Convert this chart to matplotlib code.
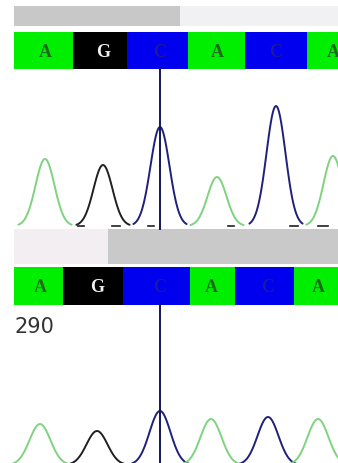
import numpy as np
import matplotlib.pyplot as plt

# bases called in each read (same order in both)
bases = ["A", "G", "C", "A", "C", "A"]

# top read: cell edges of the base bar, peak positions and heights (pixels)
top_edges = [14, 73, 127, 188, 245, 307, 338]
top_peak_x = [45, 103, 160, 217, 276, 333]
top_peak_h = [67, 61, 99, 49, 120, 70]

# bottom read
bot_edges = [14, 63, 123, 190, 235, 294, 338]
bot_peak_x = [40, 97, 160, 211, 268, 318]
bot_peak_h = [41, 34, 54, 46, 48, 46]
bot_label = "290"

cell_col = {"A": "#00ee00", "G": "#000000", "C": "#0000ee"}
text_col = {"A": "#1d6a1d", "G": "#f0f0f0", "C": "#1a1aa0"}
trace_col = {"A": "#7fd27f", "G": "#202020", "C": "#20207a"}

W, H = 338, 464
fig = plt.figure(figsize=(W / 100, H / 100), dpi=100)
ax = fig.add_axes([0, 0, 1, 1])
ax.set_xlim(0, W)
ax.set_ylim(H, 0)
ax.axis("off")


def draw_read(edges, peak_x, peak_h, bar_top, bar_bot, strip, baseline, sig):
    # grey strip above the bar
    for x0, x1, c in strip:
        ax.fill_between([x0, x1], strip_y[0], strip_y[1], color=c, lw=0)
    for i, b in enumerate(bases):
        ax.fill_between([edges[i], edges[i + 1]], bar_top, bar_bot,
                        color=cell_col[b], lw=0)
        ax.text(peak_x[i], (bar_top + bar_bot) / 2 + 1, b, ha="center", va="center",
                fontsize=13, fontweight="bold", family="Liberation Serif",
                color=text_col[b])
    for i, b in enumerate(bases):
        xs = np.linspace(peak_x[i] - 2.8 * sig, peak_x[i] + 2.8 * sig, 80)
        ys = baseline - peak_h[i] * np.exp(-(xs - peak_x[i]) ** 2 / (2 * sig ** 2))
        ax.plot(xs, ys, color=trace_col[b], lw=1.4, solid_capstyle="round")


strip_y = (7, 27)
draw_read(top_edges, top_peak_x, top_peak_h, 33, 70,
          [(14, 180, "#c8c8c8"), (180, 338, "#f1f1f4")], 227, 9.5)
strip_y = (230, 265)
draw_read(bot_edges, bot_peak_x, bot_peak_h, 268, 306,
          [(14, 108, "#f2eef2"), (108, 338, "#c9c9c9")], 466, 10.5)

# small baseline marks under the top trace
for x0, x1 in [(78, 84), (112, 120), (148, 154), (228, 234), (290, 298), (318, 328)]:
    ax.plot([x0, x1], [227, 227], color="#202020", lw=1.2)

# cursor lines through the centre peak
ax.plot([160, 160], [70, 230], color="#14145a", lw=1.4)
ax.plot([160, 160], [306, 464], color="#14145a", lw=1.4)

ax.text(14, 327, bot_label, ha="left", va="center", fontsize=15,
        family="DejaVu Sans", color="#333333")

fig.savefig("out.png", dpi=100)
